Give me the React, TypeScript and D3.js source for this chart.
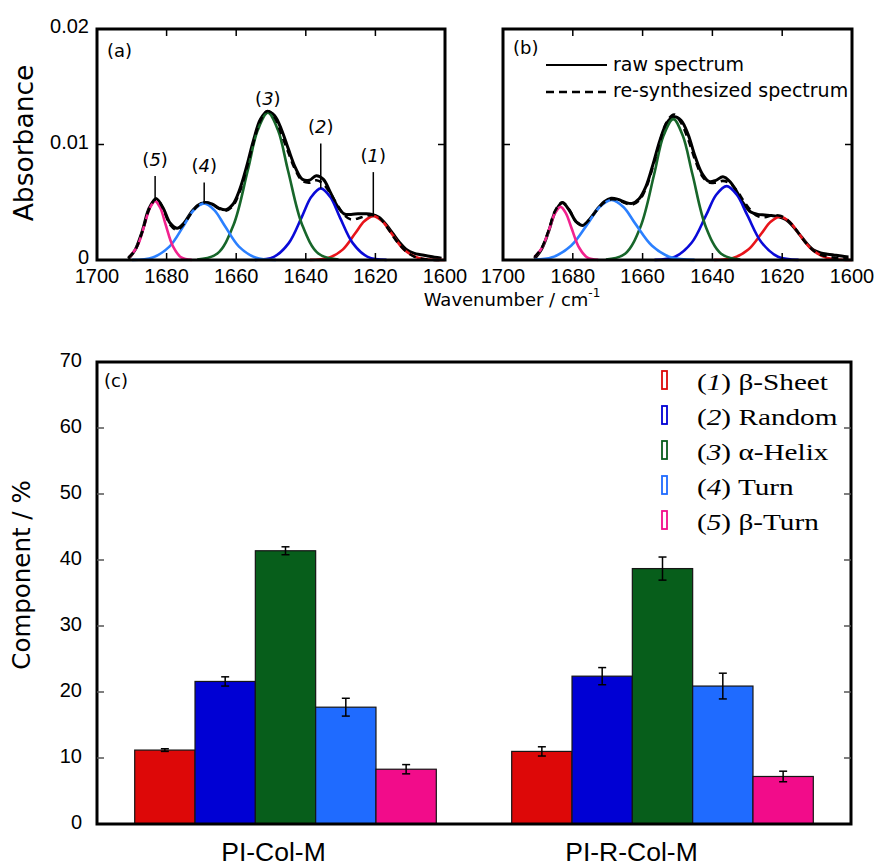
import React, { useRef, useEffect } from "react";
import * as d3 from "d3";

// wavenumber grid of the measured and re-synthesized spectra (cm-1)
const grid = [1691, 1689, 1687, 1685, 1683, 1681, 1679, 1677, 1675, 1673, 1671, 1669, 1667, 1665, 1663, 1661,
  1659, 1657, 1655, 1653, 1651, 1649, 1647, 1645, 1643, 1641, 1639, 1637, 1635, 1633, 1631, 1629, 1627, 1625,
  1623, 1621, 1619, 1617, 1615, 1613, 1611, 1609, 1607, 1605, 1603, 1601];

// (a) PI-Col-M
const rawA = [0.0001, 0.0009, 0.0025, 0.0045, 0.0053, 0.0045, 0.0032, 0.00275, 0.0032, 0.0041, 0.00475, 0.00495,
  0.00485, 0.0045, 0.00435, 0.0048, 0.0061, 0.0081, 0.0104, 0.0122, 0.01285, 0.0125, 0.0113, 0.0096, 0.008, 0.007,
  0.0069, 0.0073, 0.007, 0.0059, 0.0047, 0.004, 0.00395, 0.004, 0.004, 0.00395, 0.0037, 0.0031, 0.0023, 0.0015,
  0.0009, 0.0006, 0.00045, 0.00035, 0.00025, 0.00015];
const fitA = [0.0002, 0.00087, 0.00242, 0.0044, 0.0053, 0.00445, 0.00305, 0.0026, 0.00313, 0.004, 0.00471, 0.005,
  0.00484, 0.00446, 0.00427, 0.00467, 0.00591, 0.00791, 0.01021, 0.01209, 0.0129, 0.01239, 0.0109, 0.0093, 0.0078,
  0.00685, 0.0067, 0.0069, 0.0066, 0.0058, 0.0048, 0.0039, 0.0035, 0.0036, 0.0038, 0.0039, 0.0037, 0.003, 0.0021,
  0.0013, 0.0007, 0.00032, 0.00012, 0.00004, 0.00001, 0];
const band1A = [[1600.0, 0], [1602.4, 0.00001], [1607.6, 0.00017], [1611.8, 0.0009], [1615.4, 0.00231], [1618.0, 0.00335],
  [1620.6, 0.0038], [1623.2, 0.00335], [1625.8, 0.00231], [1629.4, 0.0009], [1633.6, 0.00017], [1638.8, 0.00001]];
const band2A = [[1616.8, 0.00001], [1622.2, 0.00027], [1626.5, 0.00146], [1630.3, 0.00376], [1633.0, 0.00547], [1635.7, 0.0062],
  [1638.4, 0.00547], [1641.1, 0.00376], [1644.9, 0.00146], [1649.2, 0.00027], [1654.6, 0.00001]];
const band3A = [[1630.6, 0.00003], [1636.4, 0.00056], [1641.0, 0.00301], [1645.1, 0.00773], [1648.0, 0.01125], [1650.9, 0.01275],
  [1653.8, 0.01125], [1656.7, 0.00773], [1660.8, 0.00301], [1665.4, 0.00056], [1671.2, 0.00003]];
const band4A = [[1648.6, 0.00001], [1654.5, 0.00022], [1659.2, 0.00116], [1663.3, 0.00297], [1666.3, 0.00432], [1669.2, 0.0049],
  [1672.2, 0.00432], [1675.1, 0.00297], [1679.2, 0.00116], [1684.0, 0.00022], [1689.9, 0.00001]];
const band5A = [[1672.8, 0.00001], [1675.8, 0.00022], [1678.2, 0.0012], [1680.3, 0.00309], [1681.8, 0.0045], [1683.3, 0.0051],
  [1684.8, 0.0045], [1686.3, 0.00309], [1688.4, 0.0012], [1690.8, 0.00022]];

// (b) PI-R-Col-M
const rawB = [0.0001, 0.0009, 0.0024, 0.0042, 0.00495, 0.0043, 0.0033, 0.003, 0.0036, 0.0044, 0.00505, 0.00535,
  0.00525, 0.005, 0.0049, 0.0053, 0.0064, 0.0083, 0.0104, 0.0119, 0.0124, 0.0121, 0.0109, 0.009, 0.0075, 0.0068,
  0.0069, 0.0072, 0.0068, 0.0059, 0.00485, 0.00415, 0.00395, 0.0039, 0.00385, 0.00375, 0.0035, 0.00295, 0.0022,
  0.00145, 0.00087, 0.00062, 0.0005, 0.00042, 0.00034, 0.00027];
const fitB = [0.00025, 0.001, 0.0025, 0.0043, 0.005, 0.00435, 0.0033, 0.00305, 0.00359, 0.00435, 0.00498, 0.00526,
  0.0052, 0.00493, 0.0048, 0.00515, 0.00626, 0.00813, 0.01028, 0.012, 0.0126, 0.0119, 0.0105, 0.0087, 0.0073, 0.0067,
  0.0067, 0.00685, 0.00665, 0.006, 0.0051, 0.0043, 0.0038, 0.0037, 0.00385, 0.00385, 0.0036, 0.003, 0.0022, 0.0014,
  0.0008, 0.00045, 0.0003, 0.0002, 0.00015, 0.0001];
const band1B = [[1600.0, 0], [1601.7, 0.00001], [1607.1, 0.00017], [1611.4, 0.00088], [1615.2, 0.00227], [1617.9, 0.00331],
  [1620.6, 0.00375], [1623.3, 0.00331], [1626.0, 0.00227], [1629.8, 0.00088], [1634.1, 0.00017], [1639.5, 0.00001]];
const band2B = [[1615.3, 0.00001], [1621.2, 0.00028], [1625.9, 0.00151], [1630.0, 0.00388], [1633.0, 0.00565], [1635.9, 0.0064],
  [1638.9, 0.00565], [1641.8, 0.00388], [1645.9, 0.00151], [1650.7, 0.00028], [1656.6, 0.00001]];
const band3B = [[1632.0, 0.00003], [1637.5, 0.00054], [1641.9, 0.00288], [1645.7, 0.0074], [1648.5, 0.01077], [1651.2, 0.0122],
  [1654.0, 0.01077], [1656.7, 0.0074], [1660.6, 0.00288], [1665.0, 0.00054], [1670.5, 0.00003]];
const band4B = [[1645.1, 0.00001], [1651.9, 0.00023], [1657.3, 0.00123], [1662.1, 0.00315], [1665.5, 0.00459], [1668.9, 0.0052],
  [1672.3, 0.00459], [1675.7, 0.00315], [1680.5, 0.00123], [1685.9, 0.00023], [1691.0, 0.00003]];
const band5B = [[1672.7, 0.00001], [1675.8, 0.0002], [1678.2, 0.00108], [1680.4, 0.00279], [1682.0, 0.00406], [1683.5, 0.0046],
  [1685.1, 0.00406], [1686.6, 0.00279], [1688.8, 0.00108], [1691.0, 0.00025]];

const wnTicks = [1700, 1680, 1660, 1640, 1620, 1600];
const absTicks = [0, 0.01, 0.02];
const absTickLabels = ["0", "0.01", "0.02"];

// (c) secondary structure fractions
const samples = ["PI-Col-M", "PI-R-Col-M"];
const components = ["β-Sheet", "Random", "α-Helix", "Turn", "β-Turn"];
const colM = [11.2, 21.6, 41.4, 17.7, 8.3];
const colMErr = [0.2, 0.7, 0.6, 1.35, 0.7];
const rColM = [11.0, 22.4, 38.7, 20.9, 7.2];
const rColMErr = [0.7, 1.3, 1.75, 1.95, 0.8];
const pctTicks = [0, 10, 20, 30, 40, 50, 60, 70];

const lineColors = ["#e8141a", "#0a0ad8", "#17662a", "#2b80ff", "#f2228e"];
const barColors = ["#dd0808", "#0000d4", "#075e1b", "#1f6bff", "#f20c8a"];

const SANS = "'Liberation Sans', Arial, sans-serif";
const WIDE = "'DejaVu Sans', sans-serif";
const SERIF = "'Liberation Serif', 'Times New Roman', serif";

const SPEC_TOP = 29;
const SPEC_BOTTOM = 260;

function drawSpectrum(svg, o) {
  const x = d3.scaleLinear().domain([1700, 1600]).range([o.left, o.right]);
  const y = d3.scaleLinear().domain([0, 0.02]).range([SPEC_BOTTOM, SPEC_TOP]);
  const g = svg.append("g");

  const line = d3
    .line<number[]>()
    .x((d) => x(d[0]))
    .y((d) => y(d[1]))
    .curve(d3.curveCatmullRom.alpha(0.5));

  // measured spectrum under the components, fitted sum on top
  g.append("path")
    .datum(d3.zip(grid, o.raw))
    .attr("d", line)
    .attr("fill", "none")
    .attr("stroke", "#000")
    .attr("stroke-width", 3);

  o.bands.forEach((b, i) => {
    g.append("path")
      .datum(b)
      .attr("d", line)
      .attr("fill", "none")
      .attr("stroke", lineColors[i])
      .attr("stroke-width", 2.6);
  });

  g.append("path")
    .datum(d3.zip(grid, o.fit))
    .attr("d", line)
    .attr("fill", "none")
    .attr("stroke", "#000")
    .attr("stroke-width", 2.6)
    .attr("stroke-dasharray", "7,5");

  // frame and inward ticks
  g.append("rect")
    .attr("x", o.left)
    .attr("y", SPEC_TOP)
    .attr("width", o.right - o.left)
    .attr("height", SPEC_BOTTOM - SPEC_TOP)
    .attr("fill", "none")
    .attr("stroke", "#000")
    .attr("stroke-width", 3);

  wnTicks.slice(1, -1).forEach((t) => {
    g.append("line").attr("x1", x(t)).attr("x2", x(t)).attr("y1", SPEC_BOTTOM).attr("y2", SPEC_BOTTOM - 7)
      .attr("stroke", "#000").attr("stroke-width", 1.5);
    g.append("line").attr("x1", x(t)).attr("x2", x(t)).attr("y1", SPEC_TOP).attr("y2", SPEC_TOP + 7)
      .attr("stroke", "#000").attr("stroke-width", 1.5);
  });
  absTicks.slice(1, -1).forEach((t) => {
    g.append("line").attr("x1", o.left).attr("x2", o.left + 7).attr("y1", y(t)).attr("y2", y(t))
      .attr("stroke", "#000").attr("stroke-width", 1.5);
    g.append("line").attr("x1", o.right).attr("x2", o.right - 7).attr("y1", y(t)).attr("y2", y(t))
      .attr("stroke", "#000").attr("stroke-width", 1.5);
  });

  g.selectAll(".xt")
    .data(wnTicks)
    .enter()
    .append("text")
    .attr("x", (d) => x(d))
    .attr("y", 283)
    .attr("text-anchor", "middle")
    .style("font-family", SANS)
    .style("font-size", "20px")
    .text((d) => d);

  if (o.yLabels) {
    g.selectAll(".yt")
      .data(absTicks)
      .enter()
      .append("text")
      .attr("x", o.left - 8)
      .attr("y", (d) => y(d) + 4)
      .attr("text-anchor", "end")
      .style("font-family", SANS)
      .style("font-size", "20px")
      .text((d, i) => absTickLabels[i]);
  }

  g.append("text")
    .attr("x", o.left + 10)
    .attr("y", o.tagY)
    .style("font-family", WIDE)
    .style("font-size", "18px")
    .text(o.tag);

  if (o.peakLabels) {
    const leader = [44, 45, 0, 21, 25];
    o.bands.forEach((b, i) => {
      const peak = d3.greatest(b, (d) => d[1]);
      const px = x(peak[0]);
      const py = y(peak[1]);
      if (leader[i] > 0) {
        g.append("line").attr("x1", px).attr("x2", px).attr("y1", py).attr("y2", py - leader[i])
          .attr("stroke", "#000").attr("stroke-width", 1.5);
      }
      const t = g.append("text")
        .attr("x", px)
        .attr("y", py - leader[i] - (leader[i] > 0 ? 10 : 8))
        .attr("text-anchor", "middle")
        .style("font-family", WIDE)
        .style("font-size", "18px");
      t.append("tspan").text("(");
      t.append("tspan").style("font-style", "italic").text(String(i + 1));
      t.append("tspan").text(")");
    });
  }

  if (o.legend) {
    g.append("line").attr("x1", 546).attr("x2", 607).attr("y1", 65).attr("y2", 65)
      .attr("stroke", "#000").attr("stroke-width", 2);
    g.append("line").attr("x1", 546).attr("x2", 607).attr("y1", 92).attr("y2", 92)
      .attr("stroke", "#000").attr("stroke-width", 2.6).attr("stroke-dasharray", "8,5");
    g.append("text").attr("x", 613).attr("y", 71)
      .style("font-family", WIDE).style("font-size", "19px").text("raw spectrum");
    g.append("text").attr("x", 613).attr("y", 97)
      .style("font-family", WIDE).style("font-size", "19px").text("re-synthesized spectrum");
  }
}

function drawBars(svg) {
  const left = 97, right = 851, top = 362, bottom = 824;
  const values = [colM, rColM];
  const errors = [colMErr, rColMErr];
  const labelShift = [-12, -31];

  const x0 = d3.scaleBand().domain(samples).range([left, right]).paddingInner(0.2).paddingOuter(0.1);
  const x1 = d3.scaleBand().domain(components).range([0, x0.bandwidth()]);
  const y = d3.scaleLinear().domain([0, 70]).range([bottom, top]);
  const g = svg.append("g");

  samples.forEach((s, si) => {
    const grp = g.append("g").attr("transform", `translate(${x0(s)},0)`);
    grp.selectAll("rect")
      .data(values[si])
      .enter()
      .append("rect")
      .attr("x", (d, i) => x1(components[i]))
      .attr("y", (d) => y(d))
      .attr("width", x1.bandwidth())
      .attr("height", (d) => y(0) - y(d))
      .attr("fill", (d, i) => barColors[i])
      .attr("stroke", "#151515")
      .attr("stroke-width", 1.2);

    values[si].forEach((v, i) => {
      const cx = x1(components[i]) + x1.bandwidth() / 2;
      const e = errors[si][i];
      grp.append("line").attr("x1", cx).attr("x2", cx).attr("y1", y(v - e)).attr("y2", y(v + e))
        .attr("stroke", "#000").attr("stroke-width", 1.5);
      [v - e, v + e].forEach((c) => {
        grp.append("line").attr("x1", cx - 4).attr("x2", cx + 4).attr("y1", y(c)).attr("y2", y(c))
          .attr("stroke", "#000").attr("stroke-width", 1.5);
      });
    });

    g.append("text")
      .attr("x", x0(s) + x0.bandwidth() / 2 + labelShift[si])
      .attr("y", 861)
      .attr("text-anchor", "middle")
      .style("font-family", SANS)
      .style("font-size", "26.5px")
      .text(s);
  });

  g.append("rect")
    .attr("x", left).attr("y", top).attr("width", right - left).attr("height", bottom - top)
    .attr("fill", "none").attr("stroke", "#000").attr("stroke-width", 3);

  pctTicks.slice(1, -1).forEach((t) => {
    g.append("line").attr("x1", left).attr("x2", left + 7).attr("y1", y(t)).attr("y2", y(t))
      .attr("stroke", "#555").attr("stroke-width", 1.5);
    g.append("line").attr("x1", right).attr("x2", right - 7).attr("y1", y(t)).attr("y2", y(t))
      .attr("stroke", "#555").attr("stroke-width", 1.5);
  });

  g.selectAll(".pt")
    .data(pctTicks)
    .enter()
    .append("text")
    .attr("x", left - 15)
    .attr("y", (d) => y(d) + 5)
    .attr("text-anchor", "end")
    .style("font-family", SANS)
    .style("font-size", "20px")
    .text((d) => d);

  g.append("text")
    .attr("x", left + 7)
    .attr("y", top + 25)
    .style("font-family", WIDE)
    .style("font-size", "18px")
    .text("(c)");

  // legend
  components.forEach((c, i) => {
    const base = 390 + i * 35;
    g.append("rect")
      .attr("x", 662).attr("y", base - 19).attr("width", 5).attr("height", 18)
      .attr("fill", "#fff").attr("stroke", barColors[i]).attr("stroke-width", 1.8);
    const t = g.append("text")
      .attr("transform", `translate(697,${base}) scale(1.3,1)`)
      .style("font-family", SERIF)
      .style("font-size", "22.5px")
      .style("white-space", "pre");
    t.append("tspan").text("(");
    t.append("tspan").style("font-style", "italic").text(String(i + 1));
    t.append("tspan").text(") " + c);
  });

  g.append("text")
    .attr("transform", `translate(30,575) rotate(-90)`)
    .attr("text-anchor", "middle")
    .style("font-family", WIDE)
    .style("font-size", "24.5px")
    .text("Component / %");
}

export default function App() {
  const svgRef = useRef<SVGSVGElement>(null);

  useEffect(() => {
    document.body.style.margin = "0";
    const svg = d3.select(svgRef.current);
    svg.selectAll("*").remove();

    drawSpectrum(svg, {
      left: 97, right: 445, raw: rawA, fit: fitA,
      bands: [band1A, band2A, band3A, band4A, band5A],
      tag: "(a)", tagY: 57, yLabels: true, peakLabels: true,
    });
    drawSpectrum(svg, {
      left: 503, right: 852, raw: rawB, fit: fitB,
      bands: [band1B, band2B, band3B, band4B, band5B],
      tag: "(b)", tagY: 54,
      legend: true,
    });

    svg.append("text")
      .attr("transform", "translate(33,143) rotate(-90)")
      .attr("text-anchor", "middle")
      .style("font-family", WIDE)
      .style("font-size", "26.5px")
      .text("Absorbance");

    const xl = svg.append("text")
      .attr("x", 512)
      .attr("y", 306)
      .attr("text-anchor", "middle")
      .style("font-family", WIDE)
      .style("font-size", "18px");
    xl.append("tspan").text("Wavenumber / cm");
    xl.append("tspan").attr("dy", -9).style("font-size", "12px").text("-1");

    drawBars(svg);
  }, []);

  return <svg ref={svgRef} width={879} height={866} style={{ display: "block", background: "#fff" }} />;
}
